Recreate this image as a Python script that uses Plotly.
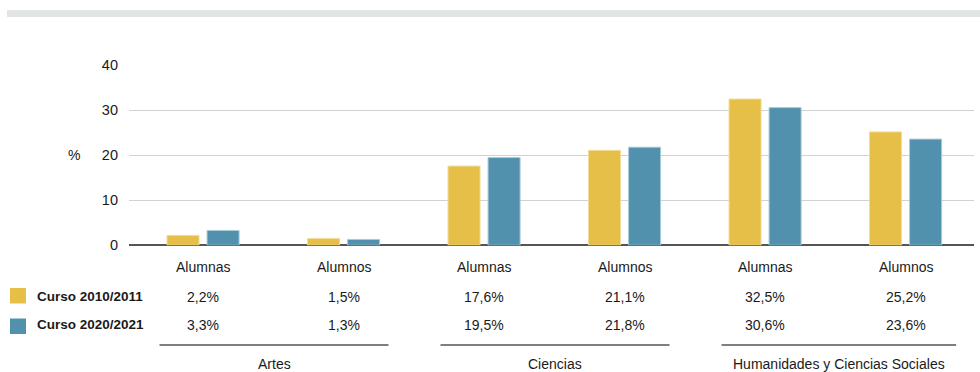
import plotly.graph_objects as go

# ---- data ----
categories = ["Alumnas", "Alumnos", "Alumnas", "Alumnos", "Alumnas", "Alumnos"]
groups = ["Artes", "Ciencias", "Humanidades y Ciencias Sociales"]
series_names = ["Curso 2010/2011", "Curso 2020/2021"]
values_2010 = [2.2, 1.5, 17.6, 21.1, 32.5, 25.2]
values_2020 = [3.3, 1.3, 19.5, 21.8, 30.6, 23.6]
y_ticks = [0, 10, 20, 30, 40]
y_unit = "%"

# ---- style ----
W, H = 980, 372
colors = ["#e5bf48", "#5191ae"]
edge_colors = ["#f1dc9a", "#a9cbd9"]
text_color = "#1a1a1a"
FONT = "Liberation Sans, Arial, sans-serif"

def px_x(p):
    return p / W

def px_y(p):
    return 1 - p / H

x_idx = list(range(len(categories)))
series = [values_2010, values_2020]

fig = go.Figure()
for name, vals, c, ec in zip(series_names, series, colors, edge_colors):
    fig.add_trace(go.Bar(
        x=x_idx, y=vals, name=name,
        marker=dict(color=c, line=dict(color=ec, width=1)),
        showlegend=False, hoverinfo="skip",
    ))

def fmt(v):
    return f"{v:.1f}".replace(".", ",") + "%"

annotations = []
# category labels
for i, cat in enumerate(categories):
    annotations.append(dict(x=i, y=px_y(266.5), xref="x", yref="paper", text=cat,
                            showarrow=False, xanchor="center", yanchor="middle",
                            font=dict(size=14, color=text_color, family=FONT)))
# table rows
row_y = [297, 324.5]
for r, vals in enumerate(series):
    for i, v in enumerate(vals):
        annotations.append(dict(x=i, y=px_y(row_y[r]), xref="x", yref="paper", text=fmt(v),
                                showarrow=False, xanchor="center", yanchor="middle",
                                font=dict(size=14, color=text_color, family=FONT)))
    annotations.append(dict(x=px_x(35), y=px_y(row_y[r] - 0.5), xref="paper", yref="paper",
                            text="<b>" + series_names[r] + "</b>", showarrow=False,
                            xanchor="left", yanchor="middle",
                            font=dict(size=13.5, color=text_color, family=FONT)))

shapes = []
# top gray band
shapes.append(dict(type="rect", xref="paper", yref="paper", x0=px_x(7), x1=1,
                   y0=px_y(17), y1=px_y(10), fillcolor="#e1e6e2", line=dict(width=0), layer="below"))
# legend squares
sq_y = [(288, 303.5), (318.5, 334)]
for r in range(2):
    shapes.append(dict(type="rect", xref="paper", yref="paper", x0=px_x(10), x1=px_x(26),
                       y0=px_y(sq_y[r][1]), y1=px_y(sq_y[r][0]), fillcolor=colors[r],
                       line=dict(width=0)))
# group lines and labels
for g, gname in enumerate(groups):
    a = 2 * g
    x0 = a - 0.31
    x1 = a + 1 + (0.32 if g < 2 else 0.36)
    shapes.append(dict(type="line", xref="x", yref="paper", x0=x0, x1=x1,
                       y0=px_y(345), y1=px_y(345), line=dict(color="#555555", width=1.3)))
    annotations.append(dict(x=(x0 + x1) / 2, y=px_y(364), xref="x", yref="paper", text=gname,
                            showarrow=False, xanchor="center", yanchor="middle",
                            font=dict(size=14, color=text_color, family=FONT)))
# y unit
annotations.append(dict(x=px_x(74), y=px_y(155), xref="paper", yref="paper", text=y_unit,
                        showarrow=False, xanchor="center", yanchor="middle",
                        font=dict(size=14, color=text_color, family=FONT)))

fig.update_layout(
    width=W, height=H, autosize=False,
    margin=dict(l=0, r=0, t=0, b=0, pad=0),
    paper_bgcolor="white", plot_bgcolor="white",
    showlegend=False,
    barmode="group", bargap=0.43, bargroupgap=0.2,
    font=dict(family=FONT, color=text_color, size=14),
    xaxis=dict(domain=[px_x(129), px_x(974)], range=[-0.527, 5.487],
               showticklabels=False, showgrid=False, zeroline=False,
               showline=False, ticks="", automargin=False),
    yaxis=dict(domain=[px_y(245.3), px_y(65.3)], range=[0, 40],
               tickvals=y_ticks, ticktext=[str(t) for t in y_ticks],
               showgrid=True, gridcolor="#d2d2d2", gridwidth=1.2,
               zeroline=True, zerolinecolor="#555555", zerolinewidth=1.8,
               ticks="", ticklabelstandoff=10, automargin=False,
               tickfont=dict(size=14.5, color=text_color, family=FONT)),
    shapes=shapes, annotations=annotations,
)

fig.write_html(
    "out.html",
    config={"displayModeBar": False},
    post_script="document.body.style.margin='0';document.body.style.overflow='hidden';",
)
